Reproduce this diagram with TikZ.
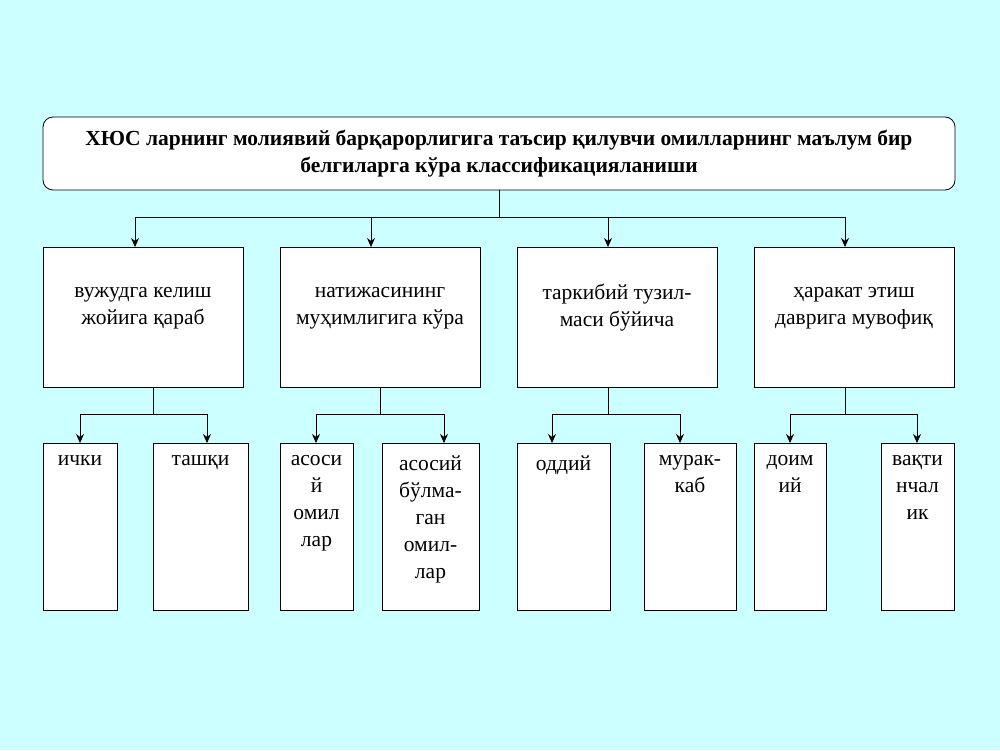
\documentclass[tikz,border=0pt]{standalone}
\usepackage{fontspec}
\setmainfont{Liberation Serif}
\usetikzlibrary{arrows.meta}
\begin{document}
\begin{tikzpicture}[x=1pt,y=-1pt,
  box/.style={draw,fill=white,line width=0.8pt,inner sep=0pt},
  txt/.style={align=center,font=\fontsize{21.5}{27}\selectfont},
  arr/.style={-{Stealth[length=9pt,width=8pt]},line width=0.7pt},
  ln/.style={line width=0.7pt}]
\fill[fill={rgb,255:red,204;green,255;blue,255}] (0,0) rectangle (1000,750);
\useasboundingbox (0,0) rectangle (1000,750);
\draw[box,rounded corners=10pt] (43,117) rectangle (955,190);
\node[txt,font=\bfseries\fontsize{21.5}{27}\selectfont] (title) at (499,154) {ХЮС ларнинг молиявий барқарорлигига таъсир қилувчи омилларнинг маълум бир\\белгиларга кўра классификацияланиши};
\coordinate (tb) at (499,190);
\coordinate (tj) at (499,217);
\draw[ln] (tb) -- (tj);
\draw[ln] (135,217) -- (845,217);
\foreach \i/\xa/\xb/\t in {1/43/243/{вужудга келиш\\жойига қараб},2/280/480/{натижасининг\\муҳимлигига кўра},3/517/717/{таркибий тузил-\\маси бўйича},4/754/954/{ҳаракат этиш\\даврига мувофиқ}}{
  \draw[box] (\xa,247) rectangle (\xb,387);
  \node[txt] (p\i) at ({(\xa+\xb)/2},308) {\t};
}
\foreach \x/\n in {135/p1,371/p2,608/p3,845/p4}{
  \coordinate (c\n) at (\x,217);
  \draw[arr] (c\n) -- (\x,247);
}
\foreach \xp/\xl/\xr in {153/80/207,380/316/444,608/552/680,845/790/917}{
  \draw[ln] (\xp,387) -- (\xp,414);
  \draw[ln] (\xl,414) -- (\xr,414);
  \draw[arr] (\xl,414) -- (\xl,443);
  \draw[arr] (\xr,414) -- (\xr,443);
}
\foreach \i/\xa/\xb/\t in {a/43/117/{ички},b/153/248/{ташқи},c/280/353/{асоси\\й\\омил\\лар},d/382/479/{асосий\\бўлма-\\ган\\омил-\\лар},e/517/610/{оддий},f/644/736/{мурак-\\каб},g/754/826/{доим\\ий},h/881/954/{вақти\\нчал\\ик}}{
  \draw[box] (\xa,443) rectangle (\xb,610);
  \node[txt,anchor=north] (k\i) at ({(\xa+\xb)/2},452) {\t};
}
\end{tikzpicture}
\end{document}
